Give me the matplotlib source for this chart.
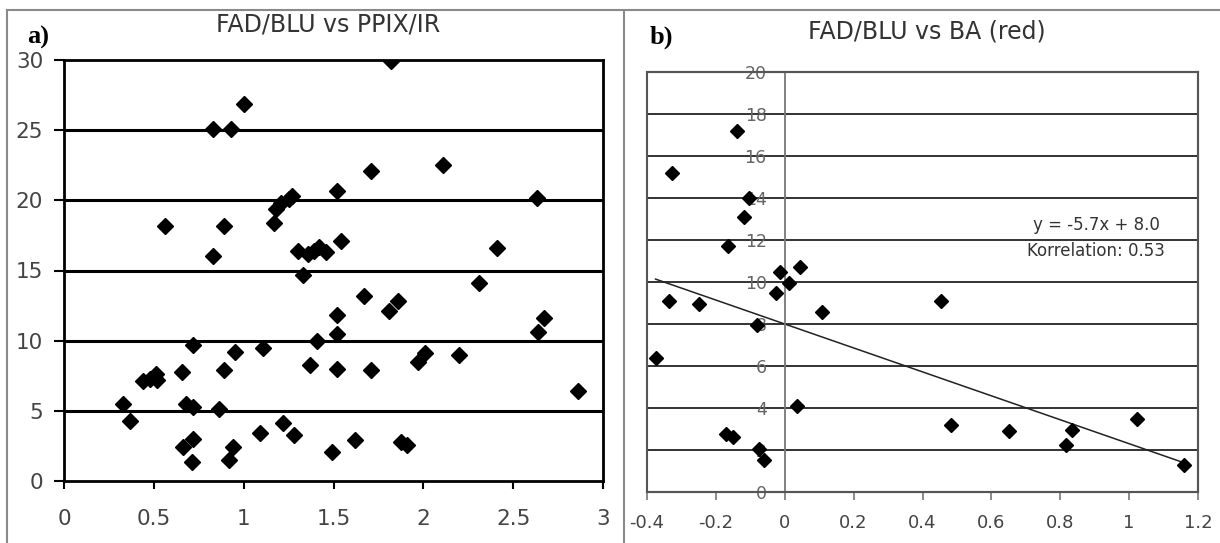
import numpy as np
import matplotlib
matplotlib.use('Agg')
import matplotlib.pyplot as plt
from matplotlib.lines import Line2D
from matplotlib.patches import Rectangle

plt.rcParams['axes.unicode_minus'] = False

# panel a) FAD/BLU vs PPIX/IR
a_x = [0.33, 0.37, 0.44, 0.48, 0.51, 0.52, 0.56, 0.655, 0.66, 0.68, 0.72, 0.72, 0.72, 0.71,
       0.83, 0.83, 0.86, 0.89, 0.89, 0.93, 0.92, 0.94, 0.95, 1.0, 1.09, 1.11, 1.17, 1.18,
       1.21, 1.25, 1.27, 1.22, 1.28, 1.30, 1.33, 1.36, 1.37, 1.39, 1.42, 1.41, 1.46, 1.49,
       1.52, 1.54, 1.52, 1.52, 1.52, 1.62, 1.67, 1.71, 1.71, 1.81, 1.82, 1.86, 1.875, 1.91,
       1.97, 2.01, 2.11, 2.20, 2.31, 2.41, 2.63, 2.64, 2.67, 2.86]
a_y = [5.5, 4.3, 7.1, 7.3, 7.6, 7.2, 18.2, 7.8, 2.4, 5.5, 5.3, 9.7, 3.0, 1.35,
       25.1, 16.0, 5.1, 7.9, 18.2, 25.1, 1.5, 2.4, 9.2, 26.9, 3.45, 9.5, 18.4, 19.4,
       19.8, 20.1, 20.3, 4.1, 3.25, 16.4, 14.7, 16.2, 8.3, 16.4, 16.7, 10.0, 16.3, 2.1,
       20.7, 17.1, 11.8, 10.5, 8.0, 2.9, 13.2, 22.1, 7.9, 12.1, 29.9, 12.8, 2.75, 2.6,
       8.5, 9.1, 22.5, 8.95, 14.1, 16.6, 20.2, 10.6, 11.6, 6.4]
a_xticks = [0, 0.5, 1, 1.5, 2, 2.5, 3]
a_xlabels = ['0', '0.5', '1', '1.5', '2', '2.5', '3']
a_yticks = [0, 5, 10, 15, 20, 25, 30]

# panel b) FAD/BLU vs BA (red)
b_x = [-0.375, -0.335, -0.327, -0.25, -0.17, -0.15, -0.166, -0.14, -0.118, -0.103, -0.08,
       -0.075, -0.061, -0.024, -0.013, 0.012, 0.035, 0.043, 0.108, 0.455, 0.483, 0.65,
       0.816, 0.834, 1.023, 1.158]
b_y = [6.4, 9.1, 15.2, 8.96, 2.75, 2.6, 11.7, 17.2, 13.1, 14.0, 7.95,
       2.05, 1.52, 9.5, 10.5, 9.97, 4.08, 10.7, 8.56, 9.1, 3.2, 2.9,
       2.24, 2.96, 3.5, 1.28]
b_slope, b_intercept = -5.7, 8.0
b_xticks = [-0.4, -0.2, 0, 0.2, 0.4, 0.6, 0.8, 1.0, 1.2]
b_xlabels = ['-0.4', '-0.2', '0', '0.2', '0.4', '0.6', '0.8', '1', '1.2']
b_yticks = [0, 2, 4, 6, 8, 10, 12, 14, 16, 18, 20]

W, H = 1220, 543
fig = plt.figure(figsize=(W / 100, H / 100), dpi=100)

# outer frame and divider
border = '#8a8a8a'
fig.add_artist(Line2D([7 / W, 1], [1 - 10 / H, 1 - 10 / H], color=border, lw=1.5))
fig.add_artist(Line2D([7 / W, 7 / W], [0, 1 - 10 / H], color=border, lw=1.5))
fig.add_artist(Line2D([624 / W, 624 / W], [0, 1 - 10 / H], color=border, lw=1.5))

# ---- left panel
ax1 = fig.add_axes([64 / W, 1 - 481 / H, (603 - 64) / W, (481 - 60) / H])
ax1.plot(a_x, a_y, 'D', color='black', ms=8, mec='black')
ax1.set_xlim(0, 3)
ax1.set_ylim(0, 30)
ax1.set_xticks(a_xticks)
ax1.set_xticklabels(a_xlabels)
ax1.set_yticks(a_yticks)
for y in a_yticks[1:-1]:
    ax1.axhline(y, color='black', lw=2.2, zorder=0)
for s in ax1.spines.values():
    s.set_color('black')
    s.set_linewidth(2)
ax1.tick_params(axis='x', direction='out', length=6, width=1.5, pad=14,
                labelsize=15.5, labelcolor='#444444')
ax1.tick_params(axis='y', direction='out', length=7, width=1.5, pad=8,
                labelsize=15.5, labelcolor='#444444')
fig.text(328 / W, 1 - 24 / H, 'FAD/BLU vs PPIX/IR', ha='center', va='center',
         fontsize=17, color='#333333')
fig.text(38 / W, 1 - 37 / H, 'a)', ha='center', va='center', fontsize=19,
         fontweight='bold', family='Liberation Serif')

# ---- right panel
gray = '#555555'
ax2 = fig.add_axes([647 / W, 1 - 492 / H, (1198 - 647) / W, (492 - 72) / H])
ax2.plot(b_x, b_y, 'D', color='black', ms=7, mec='black', zorder=3)
xs = np.array([min(b_x), max(b_x)])
ax2.plot(xs, b_slope * xs + b_intercept, color='#222222', lw=1.1, zorder=2)
ax2.set_xlim(-0.4, 1.2)
ax2.set_ylim(0, 20)
ax2.set_xticks(b_xticks)
ax2.set_xticklabels(b_xlabels)
ax2.set_yticks(b_yticks)
for y in b_yticks[1:-1]:
    ax2.axhline(y, color='#333333', lw=1.4, zorder=0)
ax2.spines['left'].set_position(('data', 0))
ax2.spines['left'].set_color('#777777')
ax2.spines['left'].set_linewidth(1.3)
for k in ['top', 'right', 'bottom']:
    ax2.spines[k].set_color(gray)
    ax2.spines[k].set_linewidth(1.5)
ax2.add_patch(Rectangle((0, 0), 1, 1, transform=ax2.transAxes, fill=False,
                        ec=gray, lw=1.5, clip_on=False))
ax2.tick_params(axis='y', length=0, pad=13, labelsize=12.5, labelcolor='#666666')
ax2.tick_params(axis='x', direction='out', length=6, width=1.2, color='#777777',
                pad=10, labelsize=13, labelcolor='#444444')
ax2.text(0.904, 12.1, 'y = %.1fx + %.1f\nKorrelation: 0.53' % (b_slope, b_intercept),
         ha='center', va='center', multialignment='center', fontsize=12,
         color='#333333', linespacing=1.6)
fig.text(927 / W, 1 - 31 / H, 'FAD/BLU vs BA (red)', ha='center', va='center',
         fontsize=17, color='#333333')
fig.text(661 / W, 1 - 37 / H, 'b)', ha='center', va='center', fontsize=19,
         fontweight='bold', family='Liberation Serif')

fig.savefig('out.png', dpi=100)
